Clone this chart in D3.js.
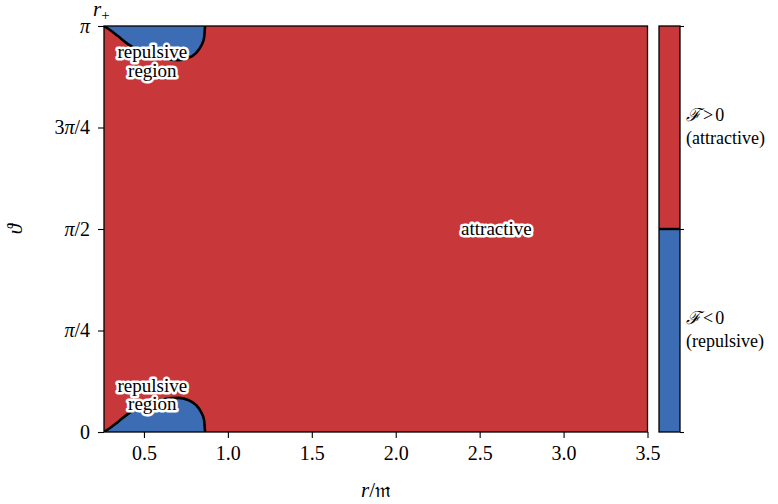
<!DOCTYPE html>
<html>
<head>
<meta charset="utf-8">
<script src="https://cdn.jsdelivr.net/npm/d3@7"></script>
<style>
  body { margin: 0; background: #fff; }
  svg text { font-family: "Liberation Serif", serif; fill: #000; }
</style>
</head>
<body>
<div id="chart"></div>
<script>
// boundary of the repulsive region near theta = 0 (mirrored near theta = pi)
var boundaryR     = [0.262, 0.298, 0.345, 0.405, 0.477, 0.548, 0.626, 0.703, 0.763, 0.810, 0.840, 0.858, 0.864];
var boundaryTheta = [0.000, 0.031, 0.078, 0.140, 0.194, 0.233, 0.256, 0.264, 0.248, 0.209, 0.155, 0.093, 0.000];

var xTicks = [0.5, 1.0, 1.5, 2.0, 2.5, 3.0, 3.5];
var yTicks = [0, Math.PI / 4, Math.PI / 2, 3 * Math.PI / 4, Math.PI];
var yTickLabels = ["0", "π/4", "π/2", "3π/4", "π"];
var colorbarTicks = [-1, 0, 1];

var rPlus = 0.262, rMax = 3.5;
var red = "#c8383a", blue = "#3c6db4";

var W = 778, H = 504;
var margin = {top: 26, left: 104},
    width = 543.5,
    height = 406;

var svg = d3.select("#chart").append("svg").attr("width", W).attr("height", H);

var x = d3.scaleLinear().domain([rPlus, rMax]).range([margin.left, margin.left + width]);
var y = d3.scaleLinear().domain([0, Math.PI]).range([margin.top + height, margin.top]);

// background: attractive everywhere
svg.append("rect")
    .attr("x", x(rPlus)).attr("y", y(Math.PI))
    .attr("width", x(rMax) - x(rPlus)).attr("height", y(0) - y(Math.PI))
    .attr("fill", red);

var pts = boundaryR.map(function(r, i){ return [r, boundaryTheta[i]]; });
var line = d3.line().x(function(d){ return x(d[0]); }).y(function(d){ return y(d[1]); }).curve(d3.curveMonotoneX);
var lineTop = d3.line().x(function(d){ return x(d[0]); }).y(function(d){ return y(Math.PI - d[1]); }).curve(d3.curveMonotoneX);

svg.append("clipPath").attr("id", "clip").append("rect")
    .attr("x", x(rPlus)).attr("y", y(Math.PI))
    .attr("width", x(rMax) - x(rPlus)).attr("height", y(0) - y(Math.PI));

var g = svg.append("g").attr("clip-path", "url(#clip)");
[line, lineTop].forEach(function(l){
  g.append("path").attr("d", l(pts) + "Z").attr("fill", blue);
  g.append("path").attr("d", l(pts)).attr("fill", "none")
      .attr("stroke", "#000").attr("stroke-width", 2.6);
});

// axes
var xAxis = d3.axisBottom(x).tickValues(xTicks).tickFormat(d3.format(".1f")).tickSize(6).tickPadding(8);
var yAxis = d3.axisLeft(y).tickValues(yTicks).tickSize(6).tickPadding(8);

var gx = svg.append("g").attr("transform", "translate(0," + y(0) + ")").call(xAxis);
var gy = svg.append("g").attr("transform", "translate(" + x(rPlus) + ",0)").call(yAxis);
[gx, gy].forEach(function(a){
  a.attr("font-family", null);
  a.select(".domain").remove();
  a.selectAll("line").attr("stroke", "#000").attr("stroke-width", 1.1);
  a.selectAll("text").attr("font-size", 20);
});
gy.selectAll(".tick text").each(function(d, i){
  var t = d3.select(this).text(null);
  yTickLabels[i].split(/(π)/).forEach(function(s){
    if (!s) return;
    t.append("tspan").attr("font-style", s === "π" ? "italic" : null).text(s);
  });
});

svg.append("rect")
    .attr("x", x(rPlus)).attr("y", y(Math.PI))
    .attr("width", x(rMax) - x(rPlus)).attr("height", y(0) - y(Math.PI))
    .attr("fill", "none").attr("stroke", "#000").attr("stroke-width", 1.3);

// axis labels
var xl = svg.append("text").attr("x", 376).attr("y", 497).attr("text-anchor", "middle").attr("font-size", 21);
xl.append("tspan").attr("font-style", "italic").text("r");
xl.append("tspan").text("/");
xl.append("tspan").text("𝔪");

svg.append("text").attr("transform", "translate(22," + y(Math.PI / 2) + ") rotate(-90)")
    .attr("text-anchor", "middle").attr("font-size", 21).attr("font-style", "italic").text("ϑ");

var rp = svg.append("text").attr("x", x(rPlus) - 11).attr("y", 16).attr("font-size", 21);
rp.append("tspan").attr("font-style", "italic").text("r");
rp.append("tspan").attr("font-size", 15).attr("dy", 4).text("+");

// annotations with white halo
function halo(sel){
  sel.attr("stroke", "#fff").attr("stroke-width", 5).attr("stroke-linejoin", "round")
     .attr("paint-order", "stroke").attr("text-anchor", "middle").attr("font-size", 19);
  return sel;
}
[Math.PI - 0.28, 0.28].forEach(function(th){
  var t = halo(svg.append("text").attr("x", x(0.55)).attr("y", y(th)));
  t.append("tspan").attr("x", x(0.55)).attr("dy", -4).text("repulsive");
  t.append("tspan").attr("x", x(0.55)).attr("dy", 18.5).text("region");
});
halo(svg.append("text").attr("x", x(2.6)).attr("y", y(Math.PI / 2)).attr("dy", 6)).text("attractive");

// colorbar
var cb = d3.scaleLinear().domain([-1, 1]).range([y(0), y(Math.PI)]);
var cbX = 659, cbW = 21;
svg.append("rect").attr("x", cbX).attr("y", cb(0)).attr("width", cbW).attr("height", cb(-1) - cb(0)).attr("fill", blue);
svg.append("rect").attr("x", cbX).attr("y", cb(1)).attr("width", cbW).attr("height", cb(0) - cb(1)).attr("fill", red);
svg.append("line").attr("x1", cbX).attr("x2", cbX + cbW).attr("y1", cb(0)).attr("y2", cb(0))
    .attr("stroke", "#000").attr("stroke-width", 2.4);
var gc = svg.append("g").attr("transform", "translate(" + (cbX + cbW) + ",0)")
    .call(d3.axisRight(cb).tickValues(colorbarTicks).tickSize(4).tickFormat(""));
gc.select(".domain").remove();
gc.selectAll("line").attr("stroke", "#000").attr("stroke-width", 1.1);
svg.append("rect").attr("x", cbX).attr("y", cb(1)).attr("width", cbW).attr("height", cb(-1) - cb(1))
    .attr("fill", "none").attr("stroke", "#000").attr("stroke-width", 1.3);

function cbLabel(v, sign, word){
  var cy = cb(v);
  var t = svg.append("text").attr("x", 686).attr("y", cy - 7).attr("font-size", 18);
  t.append("tspan").attr("font-style", "italic").text("ℱ");
  t.append("tspan").attr("dx", 2).text(sign);
  t.append("tspan").attr("dx", 2).text("0");
  svg.append("text").attr("x", 686).attr("y", cy + 16).attr("font-size", 18).text(word);
}
cbLabel(0.5, ">", "(attractive)");
cbLabel(-0.5, "<", "(repulsive)");
</script>
</body>
</html>
